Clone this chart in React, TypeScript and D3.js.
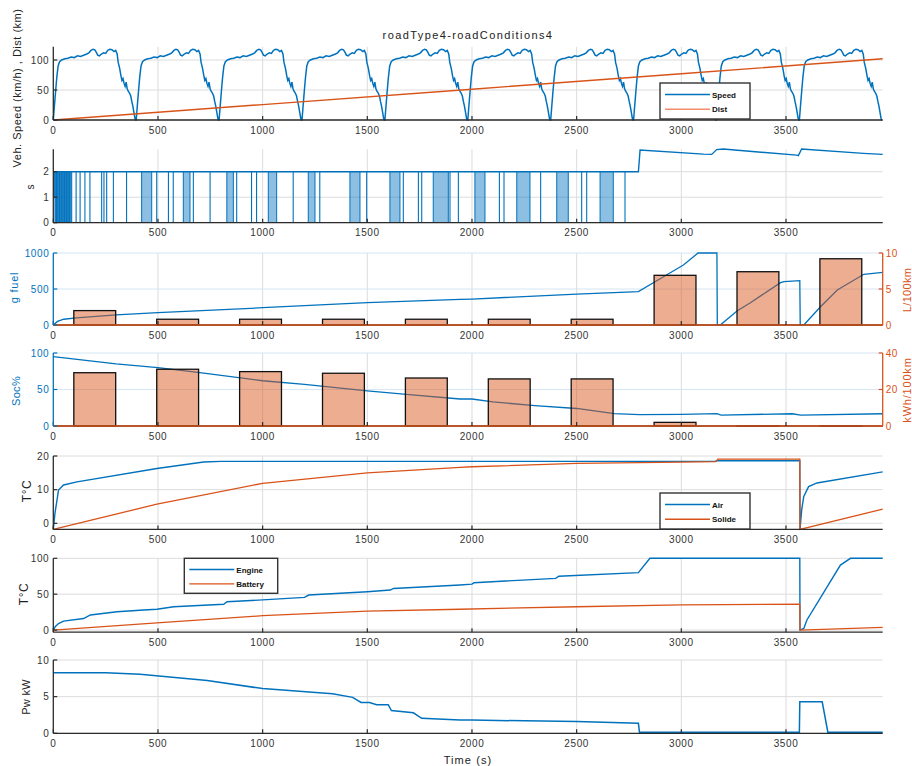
import React from 'react';
import * as d3 from 'd3';

type Pt = [number, number];

const BLUE = '#0072BD';
const ORANGE = '#D95319';
const AXIS = '#2b2b2b';
const GRID = '#dcdcdc';
const GRID_B = '#d6e6f4';
const FONT = '"Liberation Sans", Arial, Helvetica, sans-serif';

const T_MAX = 3962;
const xTicks = [0, 500, 1000, 1500, 2000, 2500, 3000, 3500];

// ---- Panel 1: speed (one drive cycle, repeated per cycle start) and distance
const cycleStarts = [0, 396, 792, 1188, 1584, 1980, 2376, 2772, 3168, 3564];
const speedCycle: Pt[] = [
  [0, 0], [5, 22], [11, 48], [17, 72], [23, 90], [30, 97], [40, 100], [55, 102], [70, 103],
  [85, 105], [100, 104], [115, 107], [130, 106], [145, 108], [160, 110], [170, 112], [180, 116],
  [190, 118], [198, 117], [205, 113], [212, 108], [220, 107], [230, 110], [240, 112], [250, 111],
  [260, 116], [270, 118], [280, 117], [290, 114], [298, 116], [305, 110], [310, 96], [317, 86],
  [323, 74], [328, 66], [333, 69], [338, 61], [343, 56], [348, 63], [353, 52], [358, 48],
  [364, 45], [370, 40], [375, 31], [380, 23], [385, 13], [390, 3], [393, 0], [396, 0],
];
const distData: Pt[] = [[0, 0], [1000, 25.7], [2000, 51.3], [3000, 77], [3962, 102]];
const speedTicks = [0, 50, 100];

// ---- Panel 2: s signal
const gearDips = [15, 22, 30, 38, 46, 54, 62, 70, 78, 109, 128, 151, 175, 231, 242, 255, 287, 350, 494, 550, 573,
  669, 749, 876, 947, 971, 1146, 1273, 1497, 1672, 1744, 1760, 1895, 1935, 2131, 2153, 2328, 2524, 2548, 2731];
const gearBands: Pt[] = [[8, 88], [422, 470], [621, 653], [829, 860], [1027, 1067], [1218, 1250], [1417, 1465],
  [1608, 1656], [1815, 1887], [2014, 2062], [2214, 2277], [2405, 2460], [2612, 2675]];
const gearTail: Pt[] = [[0, 1], [4, 1], [4, 2], [2795, 2], [2803, 2.85], [3106, 2.69], [3145, 2.68], [3169, 2.87],
  [3200, 2.89], [3551, 2.65], [3559, 2.63], [3575, 2.89], [3870, 2.72], [3962, 2.68]];
const gearTicks = [0, 1, 2];

// ---- Panel 3: fuel
const fuelG: Pt[] = [[0, 0], [20, 50], [50, 80], [110, 100], [300, 140], [500, 171], [1000, 240], [1500, 310],
  [1943, 355], [2000, 360], [2500, 430], [2795, 463], [2915, 671], [3010, 833], [3080, 1000], [3170, 1000],
  [3172, 0], [3186, 0], [3266, 194], [3330, 310], [3474, 588], [3490, 602], [3566, 615], [3568, 0], [3585, 0],
  [3665, 254], [3745, 486], [3872, 704], [3962, 732]];
const barCenters = [198, 594, 990, 1386, 1782, 2178, 2574, 2970, 3366, 3762];
const barWidth = 200;
const fuelL100 = [2.0, 0.8, 0.8, 0.8, 0.8, 0.8, 0.8, 6.9, 7.4, 9.2];
const fuelTicksL = [0, 500, 1000];
const fuelTicksR = [0, 5, 10];

// ---- Panel 4: SOC
const socPct: Pt[] = [[0, 95], [300, 85], [500, 80], [700, 73], [1000, 62], [1200, 57], [1500, 48], [1700, 43],
  [1943, 37], [2000, 37], [2100, 33], [2300, 28], [2500, 24], [2680, 17], [2800, 15.5], [3000, 16], [3170, 17],
  [3190, 15], [3530, 16.8], [3570, 15], [3962, 16.8]];
const elecKwh100 = [29.2, 31.1, 29.8, 28.9, 26.3, 25.8, 25.8, 2.0, 0.15, 0.15];
const socTicksL = [0, 50, 100];
const socTicksR = [0, 20, 40];

// ---- Panel 5: air / solide
const airT: Pt[] = [[0, -1.8], [8, 3], [25, 9.9], [49, 11.4], [113, 12.3], [495, 16.3], [718, 18.2], [800, 18.4],
  [3160, 18.4], [3170, 18.6], [3566, 18.6], [3567, -1.8], [3575, 4], [3585, 8], [3608, 10.9], [3648, 12], [3962, 15.3]];
const solideT: Pt[] = [[0, -1.8], [495, 5.7], [1000, 11.9], [1500, 15.0], [1943, 16.6], [2000, 16.8], [2500, 17.8],
  [3000, 18.2], [3165, 18.3], [3175, 19.1], [3566, 19.1], [3567, -1.8], [3962, 4.2]];
const tempTicks = [0, 10, 20];

// ---- Panel 6: engine / battery
const engineT: Pt[] = [[0, 0], [10, 5], [25, 9], [49, 12.5], [145, 16], [177, 21], [304, 25.5], [432, 28], [495, 29],
  [575, 32.5], [814, 36], [830, 39.5], [1000, 42], [1200, 45.6], [1220, 48.8], [1500, 53.4], [1610, 55.8],
  [1625, 58], [1943, 62.8], [2000, 64], [2010, 66], [2400, 72], [2415, 75], [2795, 80], [2850, 100], [3566, 100],
  [3567, 0], [3585, 2.3], [3600, 14], [3760, 90.6], [3808, 100], [3962, 100]];
const batteryT: Pt[] = [[0, 0], [495, 10], [1000, 20], [1500, 26.5], [1943, 29], [2500, 32.5], [3000, 35],
  [3566, 36], [3567, 0], [3962, 3.7]];
const engTicks = [0, 50, 100];

// ---- Panel 7: power
const pwKw: Pt[] = [[0, 8.27], [250, 8.27], [415, 8.05], [543, 7.7], [735, 7.2], [1000, 6.1], [1334, 5.4],
  [1430, 4.9], [1470, 4.2], [1510, 4.2], [1545, 3.9], [1600, 3.9], [1615, 3.1], [1720, 2.8], [1760, 2.05],
  [1943, 1.8], [2000, 1.8], [2500, 1.6], [2795, 1.36], [2800, 0.15], [3564, 0.15], [3566, 4.3], [3673, 4.3],
  [3700, 0.15], [3962, 0.15]];
const pwTicks = [0, 5, 10];

const X0 = 53.3;
const X1 = 882.7;

export default function App() {
  const x = d3.scaleLinear().domain([0, T_MAX]).range([X0, X1]);
  const sy = (top: number, bottom: number, dom: [number, number]) =>
    d3.scaleLinear().domain(dom).range([bottom, top]);

  const y1 = sy(46.8, 120, [0, 122]);
  const y2 = sy(149.3, 222.7, [0, 2.88]);
  const y3 = sy(253, 325, [0, 1000]);
  const y3r = sy(253, 325, [0, 10]);
  const y4 = sy(353, 426, [0, 100]);
  const y4r = sy(353, 426, [0, 40]);
  const y5 = sy(456, 529.4, [-1.8, 20]);
  const y6 = sy(558.3, 632.2, [-3, 100]);
  const y7 = sy(660, 733.3, [0, 10]);

  const path = (data: Pt[], y: d3.ScaleLinear<number, number>) =>
    d3.line<Pt>().x(d => x(d[0])).y(d => y(d[1]))(data) || '';

  const speedData: Pt[] = cycleStarts.flatMap(s => speedCycle.map(([t, v]) => [s + t, v] as Pt));

  const tickText = { fontFamily: FONT, fontSize: 10, letterSpacing: 0.6 } as const;

  const frame = (
    y: d3.ScaleLinear<number, number>,
    ticks: number[],
    opts: { hGrid?: string; key: string }
  ) => {
    const [bottom, top] = y.range();
    return (
      <g key={opts.key}>
        {xTicks.filter(t => t > 0).map(t => (
          <line key={'vg' + t} x1={x(t)} x2={x(t)} y1={top} y2={bottom} stroke={GRID} strokeWidth={1} />
        ))}
        {ticks.map(v => (
          <line key={'hg' + v} x1={X0} x2={X1} y1={y(v)} y2={y(v)} stroke={opts.hGrid || GRID} strokeWidth={1} />
        ))}
      </g>
    );
  };

  const axes = (
    y: d3.ScaleLinear<number, number>,
    ticks: number[],
    opts: { leftColor?: string; key: string; baseColor?: string }
  ) => {
    const [bottom, top] = y.range();
    const lc = opts.leftColor || AXIS;
    return (
      <g key={opts.key}>
        <line x1={X0} x2={X1} y1={bottom} y2={bottom} stroke={AXIS} strokeWidth={1.3} />
        {opts.baseColor && (
          <line x1={X0} x2={X1} y1={y(0)} y2={y(0)} stroke={opts.baseColor} strokeWidth={1.3} />
        )}
        {xTicks.map(t => (
          <g key={'xt' + t}>
            <line x1={x(t)} x2={x(t)} y1={bottom} y2={bottom - 4} stroke={AXIS} strokeWidth={1.2} />
            <text x={x(t)} y={bottom + 13.5} textAnchor="middle" fill="#333" {...tickText}>{t}</text>
          </g>
        ))}
        <line x1={X0} x2={X0} y1={top} y2={bottom} stroke={lc} strokeWidth={1.3} />
        {ticks.map(v => (
          <g key={'yt' + v}>
            <line x1={X0} x2={X0 + 4} y1={y(v)} y2={y(v)} stroke={lc} strokeWidth={1.2} />
            <text x={X0 - 4} y={y(v) + 3.5} textAnchor="end" fill={opts.leftColor || '#333'} {...tickText}>{v}</text>
          </g>
        ))}
      </g>
    );
  };

  const rightAxis = (y: d3.ScaleLinear<number, number>, ticks: number[], key: string) => {
    const [bottom, top] = y.range();
    return (
      <g key={key}>
        <line x1={X1} x2={X1} y1={top} y2={bottom} stroke={ORANGE} strokeWidth={1.3} />
        {ticks.map(v => (
          <g key={'rt' + v}>
            <line x1={X1} x2={X1 - 4} y1={y(v)} y2={y(v)} stroke={ORANGE} strokeWidth={1.2} />
            <text x={X1 + 3} y={y(v) + 3.5} textAnchor="start" fill={ORANGE} {...tickText}>{v}</text>
          </g>
        ))}
      </g>
    );
  };

  const bars = (vals: number[], y: d3.ScaleLinear<number, number>, key: string) => (
    <g key={key}>
      {vals.map((v, i) => (
        <rect key={i} x={x(barCenters[i] - barWidth / 2)} width={x(barWidth) - x(0)}
          y={y(v)} height={Math.max(0.5, y(0) - y(v))}
          fill={ORANGE} fillOpacity={0.48} stroke="#111" strokeWidth={1.3} />
      ))}
    </g>
  );

  const vlabel = (text: string, cx: number, cy: number, size: number, color = '#222', ls = 0.5) => (
    <text transform={`translate(${cx},${cy}) rotate(-90)`} textAnchor="middle" dominantBaseline="middle"
      fontFamily={FONT} fontSize={size} fill={color} letterSpacing={ls}>{text}</text>
  );

  const legend = (bx: number, by: number, w: number, h: number, items: [string, string][]) => (
    <g>
      <rect x={bx} y={by} width={w} height={h} fill="#fff" stroke="#333" strokeWidth={1.4} />
      {items.map(([label, color], i) => {
        const ly = by + h * (i === 0 ? 0.32 : 0.73);
        return (
          <g key={label}>
            <line x1={bx + 5} x2={bx + 50} y1={ly} y2={ly} stroke={color} strokeWidth={1.4} />
            <text x={bx + 52} y={ly + 3} fontFamily={FONT} fontSize={8} fontWeight="bold" fill="#111">{label}</text>
          </g>
        );
      })}
    </g>
  );

  return (
    <svg width={912} height={766} style={{ position: 'absolute', left: 0, top: 0, background: '#fff' }}>
      <rect x={0} y={0} width={912} height={766} fill="#fff" />
      <text x={468} y={39} textAnchor="middle" fontFamily={FONT} fontSize={11} letterSpacing={1.4} fill="#222">
        roadType4-roadConditions4
      </text>

      {/* Panel 1 */}
      {frame(y1, speedTicks, { key: 'f1' })}
      <path d={path(speedData, y1)} fill="none" stroke={BLUE} strokeWidth={1.5} />
      <path d={path(distData, y1)} fill="none" stroke={ORANGE} strokeWidth={1.4} />
      {axes(y1, speedTicks, { key: 'a1' })}
      {legend(660, 83, 90, 36, [['Speed', BLUE], ['Dist', '#ee8f6a']])}

      {/* Panel 2 */}
      {frame(y2, gearTicks, { key: 'f2' })}
      {gearBands.map(([a, b], i) => (
        <g key={'gb' + i}>
          <rect x={x(a)} width={x(b) - x(a)} y={y2(2)} height={y2(0) - y2(2)} fill={BLUE} fillOpacity={i === 0 ? 0.8 : 0.45} />
          <line x1={x(a)} x2={x(a)} y1={y2(2)} y2={y2(0)} stroke={BLUE} strokeWidth={1} />
          <line x1={x(b)} x2={x(b)} y1={y2(2)} y2={y2(0)} stroke={BLUE} strokeWidth={1} />
        </g>
      ))}
      {gearDips.map(t => (
        <line key={'gd' + t} x1={x(t)} x2={x(t)} y1={y2(2)} y2={y2(0)} stroke={BLUE} strokeWidth={1.1} />
      ))}
      <path d={path(gearTail, y2)} fill="none" stroke={BLUE} strokeWidth={1.4} />
      {axes(y2, gearTicks, { key: 'a2' })}

      {/* Panel 3 */}
      {frame(y3, fuelTicksL, { key: 'f3', hGrid: GRID_B })}
      <path d={path(fuelG, y3)} fill="none" stroke={BLUE} strokeWidth={1.3} />
      {bars(fuelL100, y3r, 'b3')}
      {axes(y3, fuelTicksL, { key: 'a3', leftColor: BLUE, baseColor: ORANGE })}
      {rightAxis(y3r, fuelTicksR, 'r3')}

      {/* Panel 4 */}
      {frame(y4, socTicksL, { key: 'f4', hGrid: GRID_B })}
      <path d={path(socPct, y4)} fill="none" stroke={BLUE} strokeWidth={1.3} />
      {bars(elecKwh100, y4r, 'b4')}
      {axes(y4, socTicksL, { key: 'a4', leftColor: BLUE, baseColor: ORANGE })}
      {rightAxis(y4r, socTicksR, 'r4')}

      {/* Panel 5 */}
      {frame(y5, tempTicks, { key: 'f5' })}
      <path d={path(airT, y5)} fill="none" stroke={BLUE} strokeWidth={1.4} />
      <path d={path(solideT, y5)} fill="none" stroke={ORANGE} strokeWidth={1.3} />
      {axes(y5, tempTicks, { key: 'a5' })}
      {legend(660, 493, 90, 36, [['Air', BLUE], ['Solide', ORANGE]])}

      {/* Panel 6 */}
      {frame(y6, engTicks, { key: 'f6' })}
      <path d={path(engineT, y6)} fill="none" stroke={BLUE} strokeWidth={1.4} />
      <path d={path(batteryT, y6)} fill="none" stroke={ORANGE} strokeWidth={1.3} />
      {axes(y6, engTicks, { key: 'a6' })}
      {legend(184.3, 558.3, 93.4, 35, [['Engine', BLUE], ['Battery', ORANGE]])}

      {/* Panel 7 */}
      {frame(y7, pwTicks, { key: 'f7' })}
      <path d={path(pwKw, y7)} fill="none" stroke={BLUE} strokeWidth={1.5} />
      {axes(y7, pwTicks, { key: 'a7' })}

      {/* Axis labels */}
      {vlabel('Veh. Speed (km/h) , Dist (km)', 18, 88, 11, '#222', 0.5)}
      {vlabel('s', 31.7, 186.7, 10)}
      {vlabel('g fuel', 15, 287.5, 11, BLUE, 0.8)}
      {vlabel('L/100km', 908, 290, 11, ORANGE, 0.3)}
      {vlabel('Soc%', 17, 391, 11, BLUE, 0.3)}
      {vlabel('kWh/100km', 908, 390, 11, ORANGE, 0.8)}
      {vlabel('T°C', 28, 491, 12)}
      {vlabel('T°C', 25, 594, 12)}
      {vlabel('Pw kW', 27, 697, 11, '#222', 0.3)}
      <text x={468} y={764} textAnchor="middle" fontFamily={FONT} fontSize={11} letterSpacing={1.1} fill="#222">Time (s)</text>
    </svg>
  );
}
